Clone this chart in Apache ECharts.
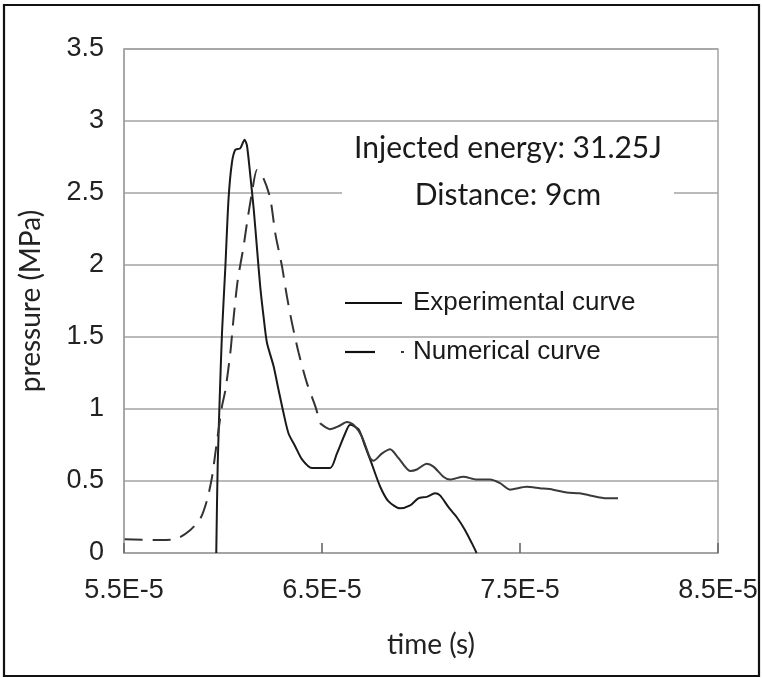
<!DOCTYPE html>
<html>
<head>
<meta charset="utf-8">
<script src="https://cdn.jsdelivr.net/npm/echarts@6/dist/echarts.min.js"></script>
<style>html,body{margin:0;padding:0;background:#fff;}#c{width:762px;height:678px;}</style>
</head>
<body>
<div id="c"></div>
<script>
// time in units of 1E-6 s (so 55 = 5.5E-5 s), pressure in MPa
const expTime = [59.66, 59.73, 59.83, 59.95, 60.12, 60.28, 60.45, 60.62, 60.87, 61.09, 61.21, 61.38, 61.55, 61.72, 61.88, 62.05, 62.22, 62.55, 62.81, 63.06, 63.31, 63.65, 63.99, 64.49, 65.41, 65.75, 66.17, 66.42, 66.84, 67.18, 67.51, 67.94, 68.35, 68.94, 69.45, 69.86, 70.29, 70.71, 70.96, 71.38, 71.8, 72.22, 72.56, 72.81];
const expPressure = [0, 0.6, 1.06, 1.53, 1.99, 2.46, 2.71, 2.80, 2.81, 2.87, 2.83, 2.62, 2.39, 2.11, 1.85, 1.64, 1.46, 1.30, 1.13, 0.97, 0.83, 0.74, 0.65, 0.59, 0.59, 0.69, 0.83, 0.89, 0.86, 0.74, 0.62, 0.46, 0.36, 0.31, 0.33, 0.38, 0.39, 0.415, 0.40, 0.32, 0.25, 0.16, 0.07, 0];

const numTimeA = [55.03, 56.84, 57.68, 58.35, 58.86, 59.2, 59.45, 59.61, 59.78, 59.95, 60.12, 60.37, 60.54, 60.74, 61.04, 61.21, 61.46, 61.72, 62.05, 62.39, 62.64, 62.98, 63.23, 63.48, 63.82, 64.24, 64.66, 64.91];
const numPressureA = [0.095, 0.09, 0.10, 0.16, 0.24, 0.37, 0.53, 0.69, 0.86, 1.02, 1.13, 1.39, 1.64, 1.89, 2.13, 2.29, 2.50, 2.66, 2.60, 2.46, 2.22, 1.99, 1.78, 1.60, 1.39, 1.18, 1.02, 0.90];
const numTimeB = [64.91, 65.41, 65.83, 66.26, 66.59, 67.01, 67.43, 67.6, 68.02, 68.44, 68.86, 69.45, 69.79, 70.29, 70.63, 71.13, 71.47, 72.14, 72.81, 73.48, 73.99, 74.49, 75.33, 76.0, 76.67, 77.35, 78.02, 78.53, 79.37, 79.95];
const numPressureB = [0.90, 0.86, 0.88, 0.91, 0.89, 0.81, 0.66, 0.64, 0.69, 0.72, 0.66, 0.57, 0.58, 0.62, 0.60, 0.53, 0.51, 0.53, 0.51, 0.51, 0.485, 0.44, 0.46, 0.45, 0.44, 0.42, 0.415, 0.40, 0.38, 0.38];

const xMin = 55, xMax = 85, xStep = 10;
const yMin = 0, yMax = 3.5, yStep = 0.5;
const seriesNames = ['Experimental curve', 'Numerical curve'];
const annotation = 'Injected energy: 31.25J\nDistance: 9cm';

const zip = (a, b) => a.map((v, i) => [v, b[i]]);

const chart = echarts.init(document.getElementById('c'), null, {renderer: 'canvas'});
const axisFont = 'Liberation Sans, Arial, sans-serif';
const titleFont = 'Lato, Carlito, sans-serif';
chart.setOption({
  animation: false,
  backgroundColor: '#fff',
  grid: {left: 124, right: 44, top: 49, bottom: 125, show: true, borderColor: '#a3a3a3', borderWidth: 1.5, backgroundColor: 'transparent'},
  legend: {show: false},
  xAxis: {
    type: 'value', min: xMin, max: xMax, interval: xStep,
    name: 'time (s)', nameLocation: 'middle', nameGap: 78,
    nameTextStyle: {fontFamily: titleFont, fontSize: 28, color: '#222', padding: [0, 0, 0, 20]},
    axisLine: {show: true, onZero: false, lineStyle: {color: '#a3a3a3', width: 1.5}},
    axisTick: {show: true, inside: false, length: -10, lineStyle: {color: '#666', width: 1.6}},
    splitLine: {show: false},
    axisLabel: {margin: 24, fontFamily: axisFont, fontSize: 27, color: '#222',
      formatter: v => (v / 10).toFixed(1) + 'E-5'}
  },
  yAxis: {
    type: 'value', min: yMin, max: yMax, interval: yStep,
    name: 'pressure (MPa)', nameLocation: 'middle', nameGap: 79, nameRotate: 90,
    nameTextStyle: {fontFamily: titleFont, fontSize: 28, color: '#222'},
    axisLine: {show: true, lineStyle: {color: '#a3a3a3', width: 1.5}},
    axisTick: {show: false},
    splitLine: {show: true, lineStyle: {color: '#a3a3a3', width: 1.5}},
    axisLabel: {margin: 20, fontFamily: axisFont, fontSize: 27, color: '#222'}
  },
  graphic: [
    {type: 'text', z: 100, x: 508, y: 172,
      style: {text: annotation, align: 'center', verticalAlign: 'middle', font: '30px ' + titleFont,
        lineHeight: 47, fill: '#1a1a1a', backgroundColor: '#fff', padding: [0, 12]}},
    {type: 'group', z: 100, children: [
      {type: 'rect', shape: {x: 330, y: 283, width: 340, height: 92}, style: {fill: '#fff'}},
      {type: 'line', shape: {x1: 345, y1: 303, x2: 402, y2: 303}, style: {stroke: '#111', lineWidth: 2}},
      {type: 'text', x: 413, y: 303, style: {text: seriesNames[0], align: 'left', verticalAlign: 'middle',
        font: '26px ' + axisFont, fill: '#1a1a1a'}},
      {type: 'line', shape: {x1: 345, y1: 352, x2: 375, y2: 352}, style: {stroke: '#111', lineWidth: 2.2}},
      {type: 'line', shape: {x1: 401, y1: 352, x2: 404, y2: 352}, style: {stroke: '#333', lineWidth: 2}},
      {type: 'text', x: 413, y: 352, style: {text: seriesNames[1], align: 'left', verticalAlign: 'middle',
        font: '26px ' + axisFont, fill: '#1a1a1a'}}
    ]},
    {type: 'rect', z: 100, shape: {x: 4, y: 5, width: 755, height: 671},
      style: {fill: 'none', stroke: '#111', lineWidth: 2.2}}
  ],
  series: [
    {name: seriesNames[0], type: 'line', data: zip(expTime, expPressure), symbol: 'none', smooth: 0.25,
      lineStyle: {color: '#1a1a1a', width: 2}},
    {name: seriesNames[1], type: 'line', data: zip(numTimeA, numPressureA), symbol: 'none', smooth: 0.25,
      lineStyle: {color: '#333', width: 2, type: [18, 10]}},
    {name: seriesNames[1], type: 'line', data: zip(numTimeB, numPressureB), symbol: 'none', smooth: 0.25,
      lineStyle: {color: '#3a3a3a', width: 2}}
  ]
});
</script>
</body>
</html>
